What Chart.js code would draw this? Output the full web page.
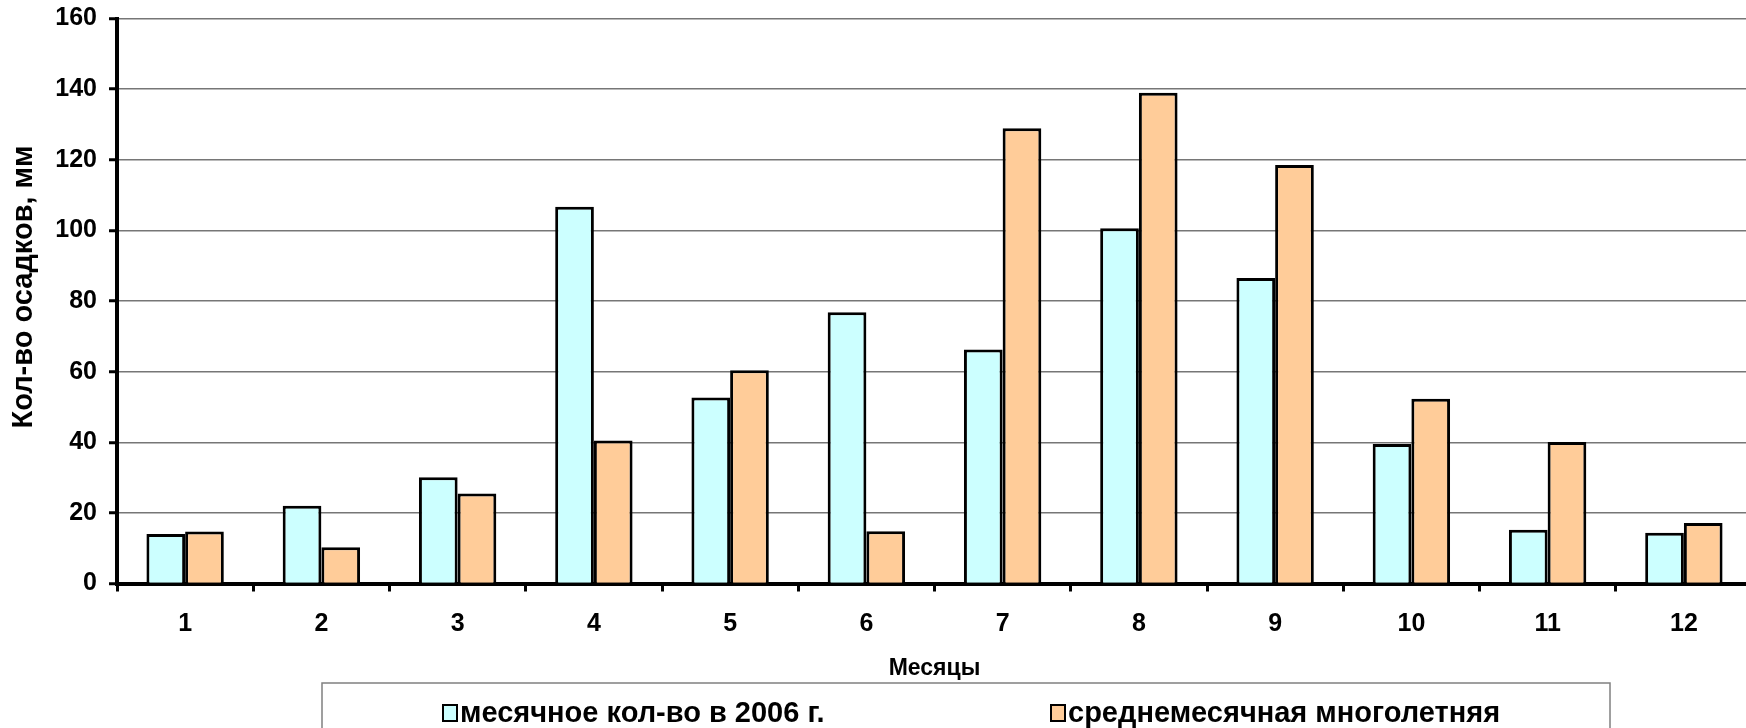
<!DOCTYPE html>
<html lang="ru">
<head>
<meta charset="utf-8">
<title>Кол-во осадков по месяцам</title>
<script src="https://cdn.jsdelivr.net/npm/chart.js@4.4.1/dist/chart.umd.min.js"></script>
<style>
  html, body { margin: 0; padding: 0; background: #ffffff; overflow: hidden; }
  #wrap { width: 1760px; height: 728px; }
  canvas { display: block; }
</style>
</head>
<body>
<div id="wrap"><canvas id="chart" width="1760" height="728"></canvas></div>
<script>
// Месяцы года
const months = ['1', '2', '3', '4', '5', '6', '7', '8', '9', '10', '11', '12'];

// Месячное количество осадков в 2006 г., мм
const precip2006 = [14.0, 22.0, 30.1, 106.7, 52.7, 76.8, 66.3, 100.6, 86.5, 39.5, 15.2, 14.4];

// Среднемесячное многолетнее количество осадков, мм
const precipNorm = [14.7, 10.3, 25.5, 40.5, 60.4, 14.8, 128.9, 139.0, 118.5, 52.3, 40.1, 17.1];

// Подписи рядов и осей
const seriesNames = ['месячное кол-во в 2006 г.', 'среднемесячная многолетняя'];
const seriesColors = ['#CCFFFF', '#FFCC99'];
const yTitle = 'Кол-во осадков, мм';
const xTitle = 'Месяцы';
const yTicks = [0, 20, 40, 60, 80, 100, 120, 140, 160];

const FONT = '"Liberation Sans", Arial, Helvetica, sans-serif';

// Вертикальная подпись оси Y
const yAxisTitle = {
  id: 'yAxisTitle',
  afterDraw(chart) {
    const ctx = chart.ctx;
    const area = chart.chartArea;
    ctx.save();
    ctx.translate(24, (area.top + area.bottom) / 2 - 14);
    ctx.rotate(-Math.PI / 2);
    ctx.font = 'bold 29px ' + FONT;
    ctx.fillStyle = '#000000';
    ctx.textAlign = 'center';
    ctx.textBaseline = 'middle';
    ctx.fillText(yTitle, 0, 0);
    ctx.restore();
  }
};

// Легенда в рамке под осью X
const boxedLegend = {
  id: 'boxedLegend',
  afterDraw(chart) {
    const ctx = chart.ctx;
    ctx.save();
    const boxLeft = 322, boxTop = 683, boxRight = 1610;
    ctx.strokeStyle = '#808080';
    ctx.lineWidth = 1.5;
    ctx.strokeRect(boxLeft, boxTop, boxRight - boxLeft, 80);

    const itemX = [443, 1051];
    const midY = 713;
    ctx.font = 'bold 29px ' + FONT;
    ctx.textBaseline = 'middle';
    ctx.textAlign = 'left';
    chart.data.datasets.forEach((ds, i) => {
      const x = itemX[i];
      ctx.fillStyle = ds.backgroundColor;
      ctx.fillRect(x, midY - 8, 14, 16);
      ctx.strokeStyle = '#000000';
      ctx.lineWidth = 2;
      ctx.strokeRect(x, midY - 8, 14, 16);
      ctx.fillStyle = '#000000';
      ctx.fillText(ds.label, x + 17, midY + 1);
    });
    ctx.restore();
  }
};

new Chart(document.getElementById('chart'), {
  type: 'bar',
  data: {
    labels: months,
    datasets: [
      {
        label: seriesNames[0],
        data: precip2006,
        backgroundColor: seriesColors[0],
        borderColor: '#000000',
        borderWidth: 3
      },
      {
        label: seriesNames[1],
        data: precipNorm,
        backgroundColor: seriesColors[1],
        borderColor: '#000000',
        borderWidth: 3
      }
    ]
  },
  options: {
    responsive: false,
    animation: false,
    events: [],
    layout: { padding: { top: 18.5, right: 8, bottom: 46, left: 0 } },
    datasets: {
      bar: { categoryPercentage: 0.568, barPercentage: 1.0 }
    },
    plugins: {
      legend: { display: false },
      tooltip: { enabled: false }
    },
    scales: {
      x: {
        grid: {
          display: true,
          offset: true,
          drawOnChartArea: false,
          drawTicks: true,
          tickLength: 8,
          tickWidth: 3,
          tickColor: '#000000'
        },
        border: { display: true, color: '#000000', width: 4 },
        ticks: {
          color: '#000000',
          padding: 18,
          maxRotation: 0,
          font: { family: FONT, size: 25, weight: 'bold' }
        },
        title: {
          display: true,
          text: xTitle,
          color: '#000000',
          padding: { top: 0, bottom: 0 },
          font: { family: FONT, size: 23, weight: 'bold' }
        },
        afterFit(scale) {
          scale.height = 98.5;
          scale.paddingLeft = 0;
          scale.paddingRight = 0;
        }
      },
      y: {
        min: 0,
        max: 160,
        afterBuildTicks(scale) { scale.ticks = yTicks.map(v => ({ value: v })); },
        grid: {
          color: '#767676',
          lineWidth: 1.5,
          drawTicks: true,
          tickLength: 8,
          tickWidth: 3,
          tickColor: '#000000'
        },
        border: { display: true, color: '#000000', width: 4 },
        ticks: {
          color: '#000000',
          padding: 12,
          font: { family: FONT, size: 25, weight: 'bold' }
        },
        title: { display: false },
        afterFit(scale) {
          scale.width = 117;
          scale.paddingTop = 0;
          scale.paddingBottom = 0;
        }
      }
    }
  },
  plugins: [yAxisTitle, boxedLegend]
});
</script>
</body>
</html>
